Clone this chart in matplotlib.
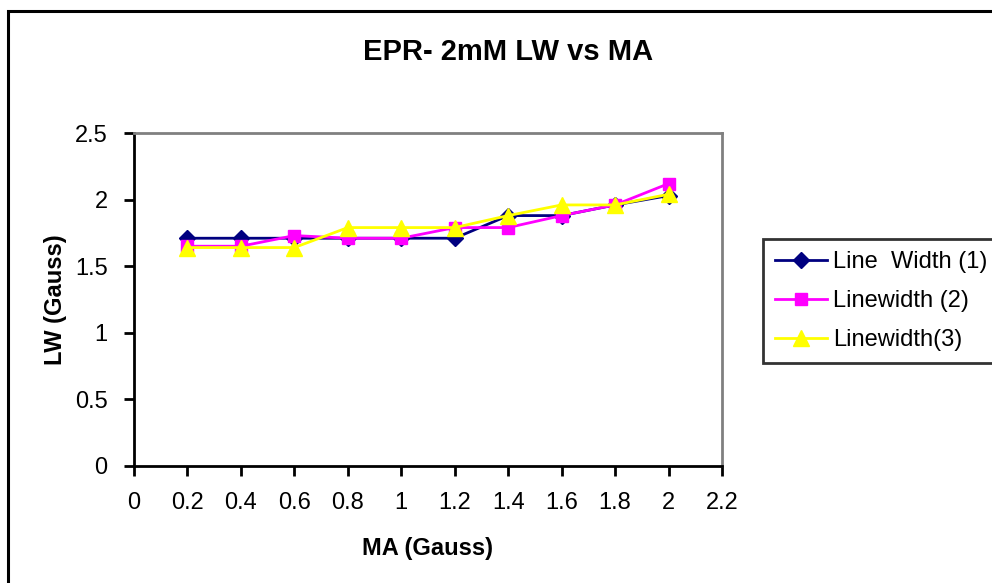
import matplotlib
matplotlib.use("Agg")
import matplotlib.pyplot as plt
from matplotlib.patches import Rectangle
from matplotlib.ticker import FuncFormatter, MultipleLocator

plt.rcParams['font.family'] = ['Liberation Sans', 'DejaVu Sans']

ma = [0.2, 0.4, 0.6, 0.8, 1.0, 1.2, 1.4, 1.6, 1.8, 2.0]
lw1 = [1.71, 1.71, 1.71, 1.71, 1.71, 1.71, 1.88, 1.88, 1.96, 2.03]
lw2 = [1.65, 1.65, 1.73, 1.71, 1.71, 1.79, 1.79, 1.88, 1.96, 2.12]
lw3 = [1.64, 1.64, 1.64, 1.79, 1.79, 1.79, 1.88, 1.96, 1.96, 2.04]
labels = ['Line  Width (1)', 'Linewidth (2)', 'Linewidth(3)']

W, H = 992, 583
fig = plt.figure(figsize=(W / 100, H / 100), dpi=100)
fig.patch.set_facecolor('white')

# outer chart border
fig.patches.append(Rectangle((8 / W, -0.2), 1.2, 0.2 + 1 - 11 / H,
                             transform=fig.transFigure, fill=False,
                             edgecolor='black', linewidth=2.2, zorder=0))

ax = fig.add_axes([134 / W, 1 - 466 / H, (722 - 134) / W, (466 - 133) / H])

ax.plot(ma, lw1, color='#000080', marker='D', markersize=8, linewidth=2,
        label=labels[0], clip_on=False)
ax.plot(ma, lw2, color='#FF00FF', marker='s', markersize=9, linewidth=2,
        label=labels[1], clip_on=False)
ax.plot(ma, lw3, color='#FFFF00', marker='^', markersize=11, linewidth=2,
        label=labels[2], clip_on=False)

ax.set_xlim(0, 2.2)
ax.set_ylim(0, 2.5)
ax.xaxis.set_major_locator(MultipleLocator(0.2))
ax.yaxis.set_major_locator(MultipleLocator(0.5))
fmt = FuncFormatter(lambda v, p: f"{v:.1f}".rstrip('0').rstrip('.') if v else "0")
ax.xaxis.set_major_formatter(fmt)
ax.yaxis.set_major_formatter(fmt)

for s in ['left', 'bottom']:
    ax.spines[s].set_color('black')
    ax.spines[s].set_linewidth(2)
for s in ['top', 'right']:
    ax.spines[s].set_color('#808080')
    ax.spines[s].set_linewidth(2)

ax.tick_params(axis='both', direction='out', length=7, width=2, labelsize=17,
               color='black')
ax.tick_params(axis='x', pad=12)
ax.tick_params(axis='y', pad=12)

ax.set_xlabel('MA (Gauss)', fontsize=17, fontweight='bold', labelpad=16)
ax.set_ylabel('LW (Gauss)', fontsize=17, fontweight='bold', labelpad=6)

fig.text(508 / W, 1 - 52 / H, 'EPR- 2mM LW vs MA', ha='center', va='center',
         fontsize=21, fontweight='bold')

leg = fig.legend(loc='upper left', bbox_to_anchor=(763 / W, 1 - 239 / H),
                 fontsize=17, frameon=True, fancybox=False, borderaxespad=0,
                 handlelength=2.2, handletextpad=0.25, labelspacing=0.72,
                 borderpad=0.5)
leg.get_frame().set_edgecolor('black')
leg.get_frame().set_linewidth(2)

fig.savefig('out.png', dpi=100)
